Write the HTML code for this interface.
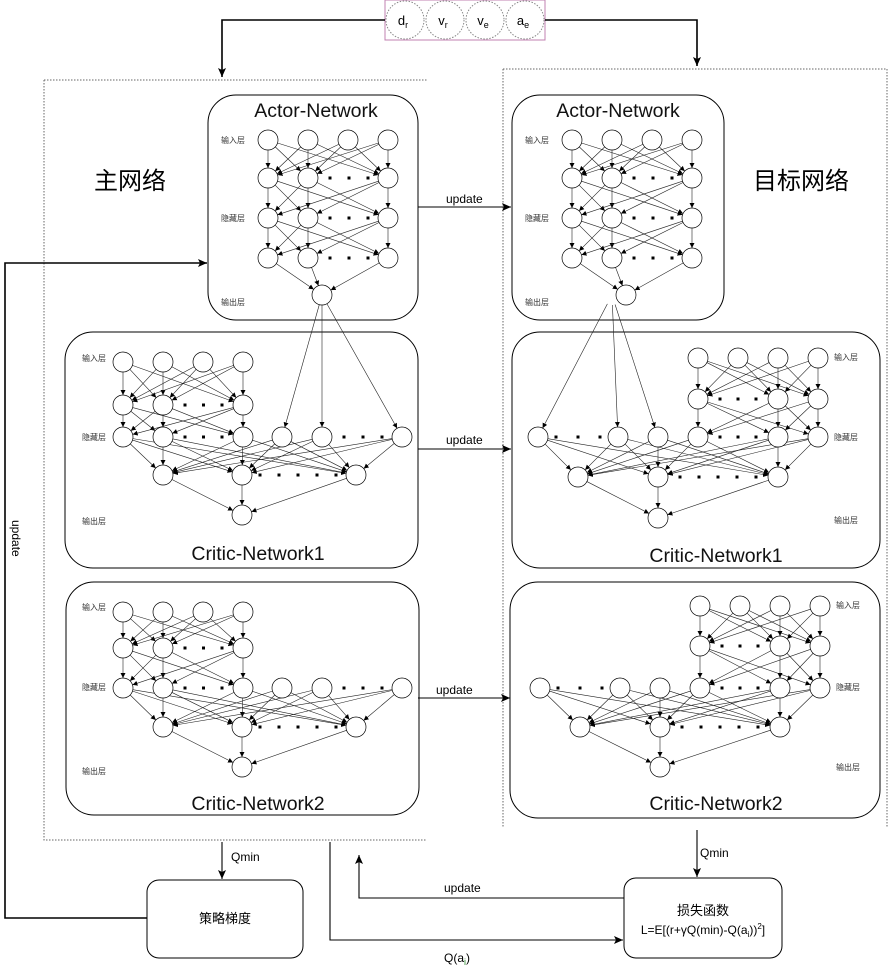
<!DOCTYPE html>
<html><head><meta charset="utf-8"><style>
html,body{margin:0;padding:0;background:#fff;}
svg{display:block;font-family:"Liberation Sans","Noto Sans CJK SC",sans-serif;}
</style></head><body>
<svg id="s" width="890" height="968" viewBox="0 0 890 968" xmlns="http://www.w3.org/2000/svg">
<defs>
<marker id="a" markerWidth="6" markerHeight="6" refX="5" refY="3" orient="auto" markerUnits="userSpaceOnUse"><path d="M0,0.5 L5,3 L0,5.5 Z" fill="#000"/></marker>
<marker id="b" markerWidth="10" markerHeight="10" refX="9" refY="5" orient="auto" markerUnits="userSpaceOnUse"><path d="M0,1 L9,5 L0,9 L2,5 Z" fill="#000"/></marker>
</defs>
<path d="M44,80 H427 M44,80 V840 H426" fill="none" stroke="#666" stroke-width="1" stroke-dasharray="1.5,1.5"/>
<path d="M503,69 H887 V828 M503,69 V828" fill="none" stroke="#666" stroke-width="1" stroke-dasharray="1.5,1.5"/>
<g fill="#fff" stroke="#000" stroke-width="1">
<rect x="208" y="95" width="210" height="225" rx="28"/>
<rect x="65" y="332" width="353" height="236" rx="28"/>
<rect x="66" y="582" width="353" height="233" rx="28"/>
<rect x="512" y="95" width="212" height="225" rx="28"/>
<rect x="512" y="332" width="368" height="236" rx="28"/>
<rect x="510" y="582" width="370" height="236" rx="28"/>
<rect x="147" y="880" width="156" height="78" rx="12"/>
<rect x="624" y="878" width="158" height="80" rx="12"/>
</g>
<g id="net"></g>
<g font-size="19.5" text-anchor="middle" fill="#111">
<text x="316" y="117">Actor-Network</text>
<text x="618" y="117">Actor-Network</text>
<text x="258" y="560">Critic-Network1</text>
<text x="716" y="562">Critic-Network1</text>
<text x="258" y="810">Critic-Network2</text>
<text x="716" y="810">Critic-Network2</text>
</g>
<g font-size="24" fill="#000">
<text x="94" y="189">主网络</text>
<text x="753" y="189">目标网络</text>
</g>
<g font-size="8" fill="#333">
<text x="221" y="143">输入层</text><text x="221" y="221">隐藏层</text><text x="221" y="305">输出层</text>
<text x="525" y="143">输入层</text><text x="525" y="221">隐藏层</text><text x="525" y="305">输出层</text>
<text x="82" y="361">输入层</text><text x="82" y="440">隐藏层</text><text x="82" y="524">输出层</text>
<text x="82" y="610">输入层</text><text x="82" y="690">隐藏层</text><text x="82" y="774">输出层</text>
<text x="834" y="360">输入层</text><text x="834" y="440">隐藏层</text><text x="834" y="523">输出层</text>
<text x="836" y="608">输入层</text><text x="836" y="690">隐藏层</text><text x="836" y="770">输出层</text>
</g>
<rect x="385" y="0" width="160" height="40" fill="none" stroke="#c080b0" stroke-width="1"/>
<g fill="none" stroke="#888" stroke-dasharray="1.5,1.5">
<circle cx="405" cy="20" r="19"/><circle cx="445" cy="20" r="19"/><circle cx="485" cy="20" r="19"/><circle cx="525" cy="20" r="19"/>
</g>
<g font-size="13" text-anchor="middle">
<text x="403" y="25">d<tspan font-size="9" dy="3">r</tspan></text>
<text x="443" y="25">v<tspan font-size="9" dy="3">r</tspan></text>
<text x="483" y="25">v<tspan font-size="9" dy="3">e</tspan></text>
<text x="523" y="25">a<tspan font-size="9" dy="3">e</tspan></text>
</g>
<g fill="none" stroke="#000" stroke-width="1.6">
<path d="M385,20 H222 V77" marker-end="url(#b)"/>
<path d="M545,20 H697 V66" marker-end="url(#b)"/>
<path d="M147,918 H5 V263 H207" marker-end="url(#b)"/>
</g>
<g fill="none" stroke="#000" stroke-width="1.1">
<path d="M418,207 H511" marker-end="url(#b)"/>
<path d="M418,449 H511" marker-end="url(#b)"/>
<path d="M418,698 H510" marker-end="url(#b)"/>
<path d="M222,842 V879" marker-end="url(#b)"/>
<path d="M697,830 V877" marker-end="url(#b)"/>
<path d="M624,898 H359 V855" marker-end="url(#b)"/>
<path d="M330,842 V940 H623" marker-end="url(#b)"/>
</g>
<g font-size="12" fill="#000">
<text x="446" y="203">update</text>
<text x="446" y="444">update</text>
<text x="436" y="694">update</text>
<text x="231" y="861">Qmin</text>
<text x="700" y="857">Qmin</text>
<text x="444" y="892">update</text>
<text x="444" y="962">Q(a<tspan font-size="9" dy="3" fill="#2a8a2a">i</tspan><tspan dy="-3">)</tspan></text>
<text transform="translate(12,520) rotate(90)" >update</text>
</g>
<g font-size="13" text-anchor="middle">
<text x="225" y="923">策略梯度</text>
<text x="703" y="915">损失函数</text>
<text x="703" y="934" font-size="12">L=E[(r+γQ(min)-Q(a<tspan font-size="8" dy="3">i</tspan><tspan dy="-3">))</tspan><tspan font-size="8" dy="-5">2</tspan><tspan dy="5">]</tspan></text>
</g>
</svg>
<script>
(function(){
var g=document.getElementById('net'),NS='http://www.w3.org/2000/svg',R=10;
function el(t,a){var e=document.createElementNS(NS,t);for(var k in a)e.setAttribute(k,a[k]);g.appendChild(e);return e;}
function edge(p,q){var dx=q[0]-p[0],dy=q[1]-p[1],L=Math.sqrt(dx*dx+dy*dy);var ux=dx/L,uy=dy/L;
el('line',{x1:p[0]+ux*R,y1:p[1]+uy*R,x2:q[0]-ux*R,y2:q[1]-uy*R,stroke:'#222','stroke-width':0.6,'marker-end':'url(#a)'});}
function conn(A,B){A.forEach(function(p){B.forEach(function(q){edge(p,q);});});}
function nodes(L){L.forEach(function(p){el('circle',{cx:p[0],cy:p[1],r:R,fill:'#fff',stroke:'#000','stroke-width':0.7});});}
function dots(x1,x2,y){var n=Math.max(3,Math.round((x2-x1)/14));for(var i=0;i<n;i++){var x=x1+(x2-x1)*i/(n-1);el('rect',{x:x-1.5,y:y-1.5,width:3,height:3,fill:'#000'});}}
function row(xs,y){return xs.map(function(x){return [x,y];});}
var all=[];
[[0],[304]].forEach(function(o){var d=o[0];
 var i=row([268+d,308+d,348+d,388+d],140),h1=row([268+d,308+d,388+d],178),h2=row([268+d,308+d,388+d],218),h3=row([268+d,308+d,388+d],258),out=[[322+d,295]];
 conn(i,h1);conn(h1,h2);conn(h2,h3);conn(h3,out);
 all.push(i,h1,h2,h3,out);dots(330+d,368+d,178);dots(330+d,368+d,218);dots(330+d,368+d,258);});
[[362,405,437,475,515],[612,648,688,727,767]].forEach(function(Y,k){
 var i=row([123,163,203,243],Y[0]),h1=row([123,163,243],Y[1]),h2a=row([123,163,243],Y[2]),h2b=row([282,322,402],Y[2]),l3=row([163,242,356],Y[3]),out=[[242,Y[4]]];
 conn(i,h1);conn(h1,h2a);conn(h2a.concat(h2b),l3);conn(l3,out);
 if(k==0){conn([[322,295]],h2b);}
 all.push(i,h1,h2a,h2b,l3,out);dots(185,222,Y[1]);dots(185,222,Y[2]);dots(344,382,Y[2]);dots(260,336,Y[3]);});
[[358,399,437,477,518],[606,646,688,727,767]].forEach(function(Y,k){
 var dx=k==0?0:2;
 var i=row([698+dx,738+dx,778+dx,818+dx],Y[0]),h1=row([698+dx,778+dx,818+dx],Y[1]),h2a=row([698+dx,778+dx,818+dx],Y[2]),h2b=row([538+dx,618+dx,658+dx],Y[2]),l3=row([578+dx,658+dx,778+dx],Y[3]),out=[[658+dx,Y[4]]];
 conn(i,h1);conn(h1,h2a);conn(h2a.concat(h2b),l3);conn(l3,out);
 if(k==0){conn([[612,295]],h2b);}
 all.push(i,h1,h2a,h2b,l3,out);dots(720+dx,756+dx,Y[1]);dots(720+dx,756+dx,Y[2]);dots(556+dx,600+dx,Y[2]);dots(680+dx,756+dx,Y[3]);});
all.forEach(nodes);
})();
</script>
</body></html>
